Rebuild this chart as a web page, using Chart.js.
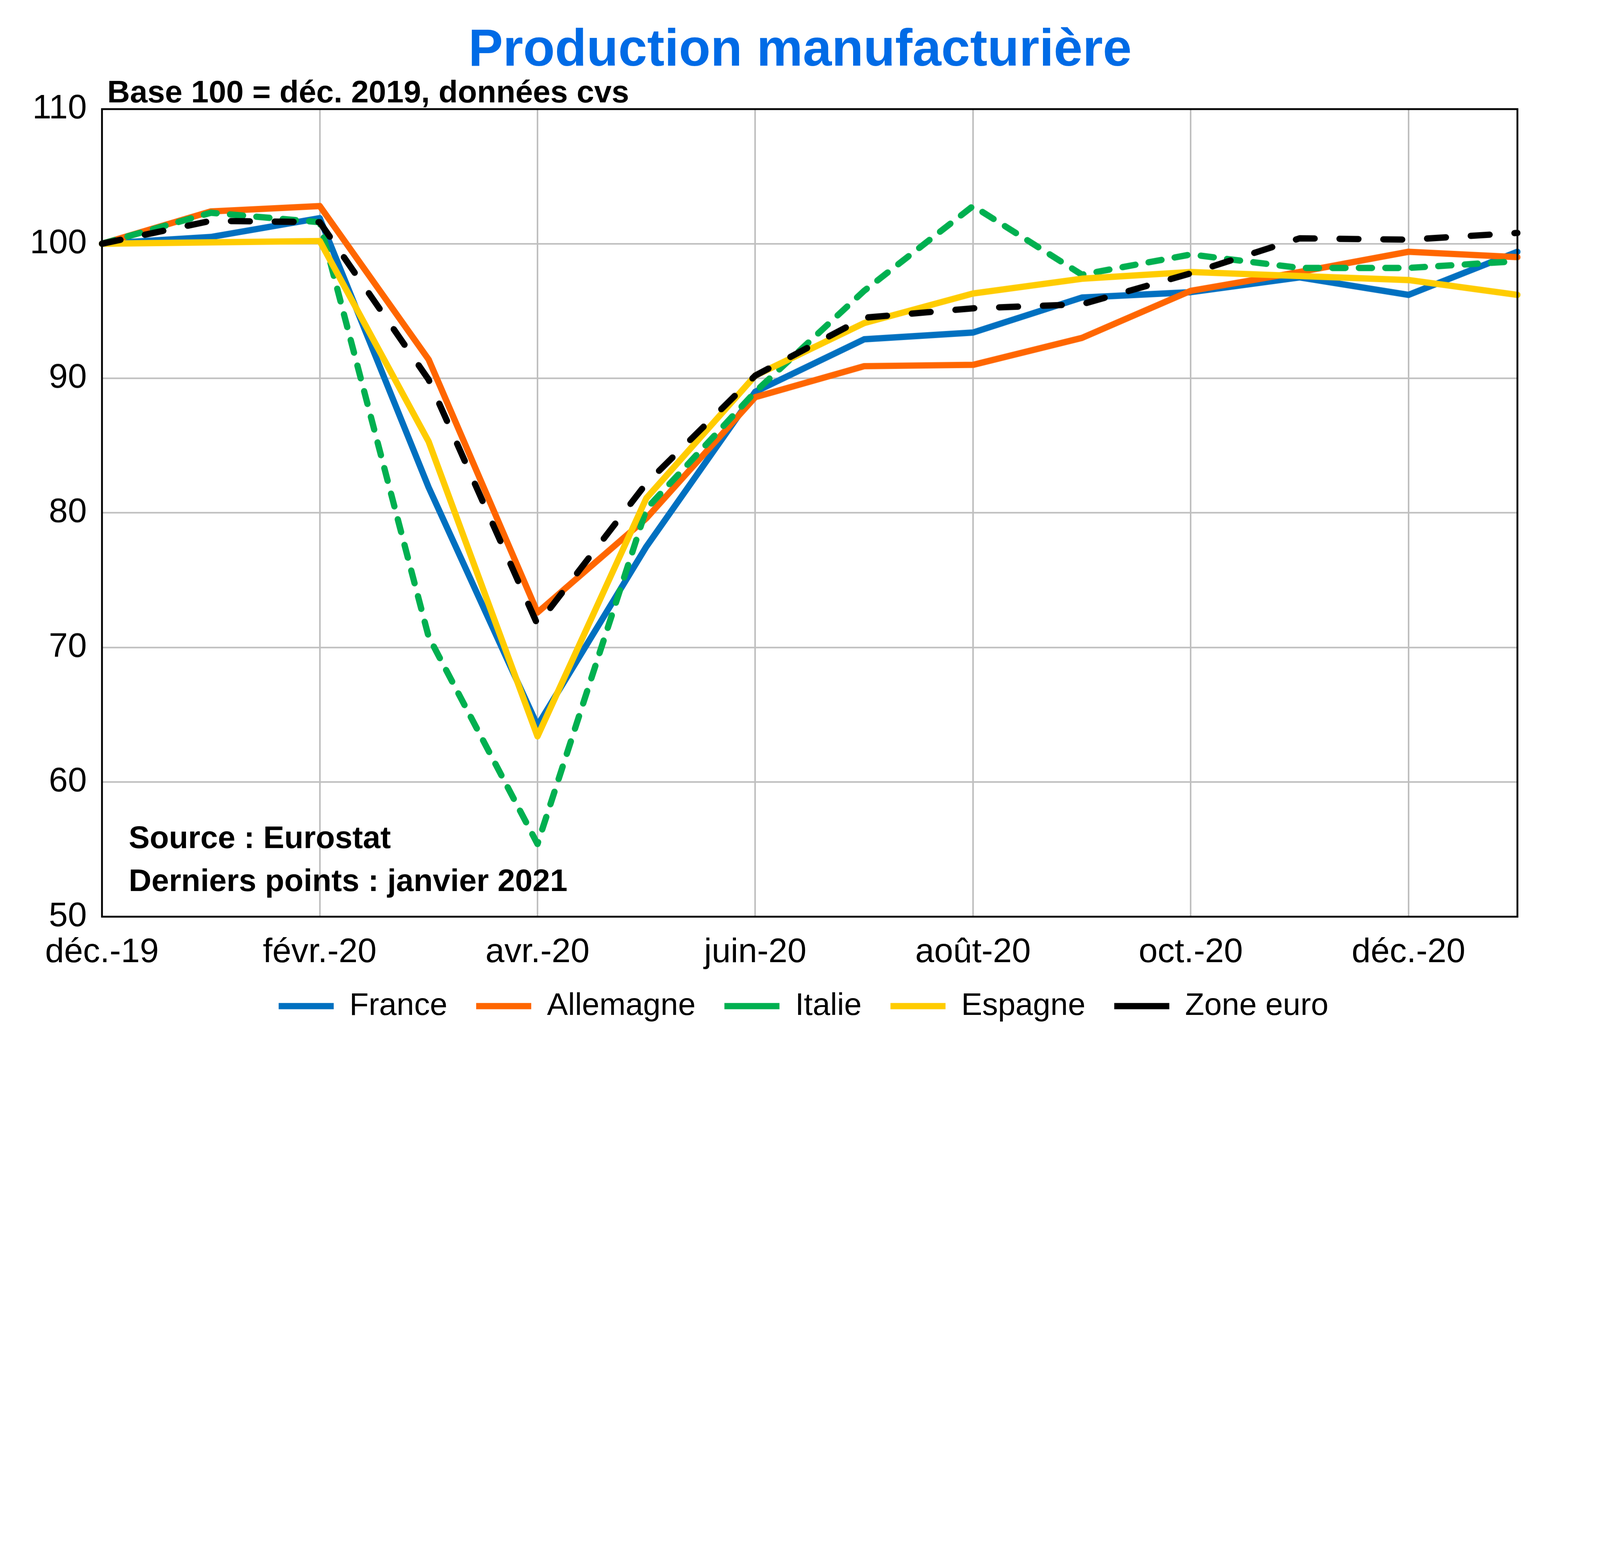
<!DOCTYPE html>
<html>
<head>
<meta charset="utf-8">
<script src="https://cdn.jsdelivr.net/npm/chart.js@4"></script>
<style>
  html, body { margin: 0; padding: 0; background: #fff; overflow: hidden; }
</style>
</head>
<body>
<div id="wrap"><canvas id="myChart"></canvas></div>
<script>
// data, base 100 = déc. 2019
const months = ['déc.-19', 'janv.-20', 'févr.-20', 'mars-20', 'avr.-20', 'mai-20', 'juin-20',
  'juil.-20', 'août-20', 'sept.-20', 'oct.-20', 'nov.-20', 'déc.-20', 'janv.-21'];
const france    = [100, 100.5, 101.9, 81.9, 64.2, 77.5, 89.0, 92.9, 93.4, 96.0, 96.4, 97.5, 96.2, 99.4];
const allemagne = [100, 102.4, 102.8, 91.4, 72.6, 79.6, 88.6, 90.9, 91.0, 93.0, 96.5, 97.9, 99.4, 99.0];
const italie    = [100, 102.3, 101.6, 70.8, 55.4, 80.3, 89.0, 96.5, 102.8, 97.7, 99.2, 98.2, 98.2, 98.7];
const espagne   = [100, 100.1, 100.2, 85.3, 63.4, 81.1, 90.2, 94.1, 96.3, 97.4, 97.9, 97.6, 97.3, 96.2];
const zoneEuro  = [100, 101.7, 101.6, 89.9, 71.7, 82.2, 90.2, 94.5, 95.2, 95.5, 97.8, 100.4, 100.3, 100.8];
const yTicks = [50, 60, 70, 80, 90, 100, 110];

const FONT = "'Liberation Sans', Arial, sans-serif";

// everything below is laid out on a 6103 x 3978 reference, scaled to the real window
const K = window.innerWidth / 6103;
const px = v => v * K;

const wrap = document.getElementById('wrap');
wrap.style.width = px(6103) + 'px';
wrap.style.height = px(3978) + 'px';

// title, subtitle, notes and the plot frame
const extras = {
  id: 'extras',
  afterLayout(chart) {
    // put the legend row where the reference has it
    const lg = chart.legend;
    lg.top = px(3836) - px(110) - px(60);
    lg.left += px(171);
    lg.right += px(171);
  },
  afterDraw(chart) {
    const ctx = chart.ctx, a = chart.chartArea;
    ctx.save();
    ctx.strokeStyle = '#000';
    ctx.lineWidth = px(7);
    ctx.strokeRect(a.left, a.top, a.right - a.left, a.bottom - a.top);

    ctx.fillStyle = '#006BE6';
    ctx.font = 'bold ' + px(198) + 'px ' + FONT;
    ctx.textAlign = 'center';
    ctx.textBaseline = 'alphabetic';
    ctx.fillText('Production manufacturière', chart.width / 2, px(250));

    ctx.fillStyle = '#000';
    ctx.font = 'bold ' + px(120) + 'px ' + FONT;
    ctx.textAlign = 'left';
    ctx.fillText('Base 100 = déc. 2019, données cvs', px(409), px(390));
    ctx.fillText('Source : Eurostat', px(491), px(3233));
    ctx.fillText('Derniers points : janvier 2021', px(491), px(3397));
    ctx.restore();
  }
};

const data = {
  labels: months,
  datasets: [
    { label: 'France', data: france, borderColor: '#0070C0', backgroundColor: '#0070C0', order: 5 },
    { label: 'Allemagne', data: allemagne, borderColor: '#FF6600', backgroundColor: '#FF6600', order: 4 },
    { label: 'Italie', data: italie, borderColor: '#00B050', backgroundColor: '#00B050', order: 3,
      borderDash: [px(50), px(51)] },
    { label: 'Espagne', data: espagne, borderColor: '#FFCC00', backgroundColor: '#FFCC00', order: 2 },
    { label: 'Zone euro', data: zoneEuro, borderColor: '#000000', backgroundColor: '#000000', order: 1,
      borderDash: [px(72), px(95)] }
  ]
};
data.datasets.forEach(d => {
  d.borderWidth = px(24);
  d.pointRadius = 0;
  d.tension = 0;
  d.borderCapStyle = 'round';
  d.borderJoinStyle = 'round';
  d.pointStyle = 'line';
});

const config = {
  type: 'line',
  data: data,
  options: {
    responsive: true,
    maintainAspectRatio: false,
    animation: false,
    layout: { padding: { top: px(416), right: px(315), left: 0, bottom: 0 } },
    scales: {
      x: {
        offset: false,
        grid: {
          color: c => (c.index % 2 === 0 ? '#BFBFBF' : 'rgba(0,0,0,0)'),
          lineWidth: px(6),
          drawTicks: false
        },
        border: { display: false },
        ticks: {
          autoSkip: false,
          maxRotation: 0,
          padding: px(60),
          color: '#000',
          font: { family: FONT, size: px(130) },
          callback: function(v, i) { return i % 2 === 0 ? months[i] : ''; }
        },
        afterFit(scale) { scale.height = px(483) - 12; }
      },
      y: {
        min: 50,
        max: 110,
        afterBuildTicks(scale) { scale.ticks = yTicks.map(v => ({ value: v })); },
        grid: { color: '#BFBFBF', lineWidth: px(6), drawTicks: false },
        border: { display: false },
        ticks: {
          padding: px(58),
          color: '#000',
          font: { family: FONT, size: px(130) }
        },
        afterFit(scale) { scale.width = px(389); }
      }
    },
    plugins: {
      title: { display: false },
      tooltip: { enabled: false },
      legend: {
        position: 'bottom',
        maxHeight: 12,
        labels: {
          usePointStyle: true,
          pointStyleWidth: px(210),
          padding: px(110),
          color: '#000',
          font: { family: FONT, size: px(120) },
          sort: (a, b) => a.datasetIndex - b.datasetIndex
        }
      }
    }
  },
  plugins: [extras]
};

function start() {
  const ctx = document.getElementById('myChart').getContext('2d');
  new Chart(ctx, config);
}
window.onload = start;
</script>
</body>
</html>
